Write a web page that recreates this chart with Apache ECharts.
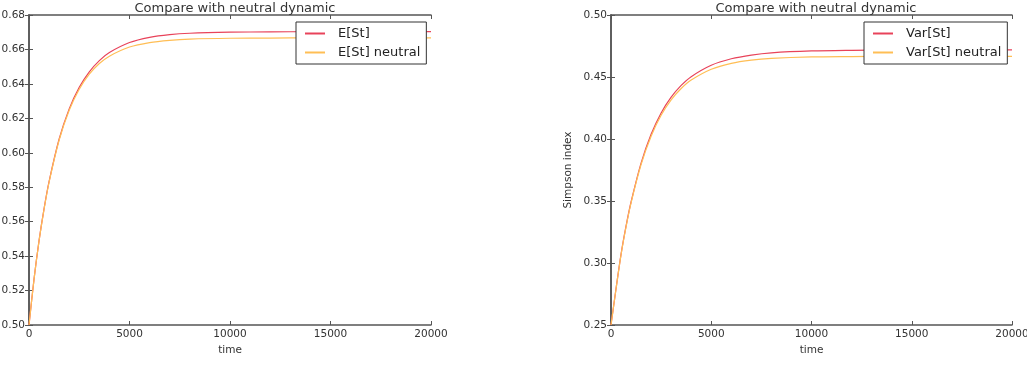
<!DOCTYPE html>
<html>
<head>
<meta charset="utf-8">
<script src="https://cdn.jsdelivr.net/npm/echarts@6/dist/echarts.min.js"></script>
<style>
  html, body { margin: 0; padding: 0; background: #fff; }
  #chart { width: 1027px; height: 375px; }
</style>
</head>
<body>
<div id="chart"></div>
<script>
// values
var times = [0, 250, 500, 750, 1000, 1500, 2000, 2500, 3000, 3500, 4000, 5000, 6000, 7000, 8000, 10000, 12000, 14000, 16000, 18000, 20000];
var eSt = [0.500, 0.5266, 0.5490, 0.5676, 0.5834, 0.6080, 0.6255, 0.6380, 0.6470, 0.6535, 0.6582, 0.6640, 0.6670, 0.6686, 0.6694, 0.6700, 0.6702, 0.6703, 0.6703, 0.6703, 0.6703];
var eStNeutral = [0.500, 0.5265, 0.5488, 0.5673, 0.5830, 0.6074, 0.6247, 0.6369, 0.6456, 0.6518, 0.6561, 0.6614, 0.6640, 0.6653, 0.6660, 0.6665, 0.6666, 0.6667, 0.6667, 0.6667, 0.6667];
var varSt = [0.250, 0.2792, 0.3070, 0.3297, 0.3492, 0.3806, 0.4038, 0.4210, 0.4337, 0.4432, 0.4503, 0.4595, 0.4647, 0.4677, 0.4695, 0.4710, 0.4715, 0.4717, 0.4718, 0.4718, 0.4718];
var varStNeutral = [0.250, 0.2790, 0.3066, 0.3291, 0.3485, 0.3794, 0.4022, 0.4191, 0.4315, 0.4407, 0.4475, 0.4562, 0.4610, 0.4636, 0.4650, 0.4662, 0.4665, 0.4667, 0.4667, 0.4667, 0.4667];
var xTicks = { min: 0, max: 20000, step: 5000 };
var leftY = { min: 0.50, max: 0.68, step: 0.02 };
var rightY = { min: 0.25, max: 0.50, step: 0.05 };

var RED = '#e8435a';
var YELLOW = '#ffbe55';
var FONT = 'DejaVu Sans';
var axisColor = '#555';
var TICK_SIZE = 10.5;

function pairs(ys) {
    return times.map(function (t, i) { return [t, ys[i]]; });
}

function xAxes(gi) {
    return [
        {
            type: 'value', gridIndex: gi, position: 'bottom',
            min: xTicks.min, max: xTicks.max, interval: xTicks.step,
            name: 'time', nameLocation: 'middle', nameGap: 20,
            nameTextStyle: { color: '#333', fontSize: TICK_SIZE, fontFamily: FONT },
            axisLine: { lineStyle: { color: axisColor, width: 1.5 } },
            axisTick: { inside: true, length: 4, lineStyle: { color: axisColor } },
            axisLabel: {
                color: '#333', fontSize: TICK_SIZE, fontFamily: FONT, margin: 4,
                formatter: function (v) { return String(v); }
            },
            splitLine: { show: false }
        },
        {
            type: 'value', gridIndex: gi, position: 'top',
            min: xTicks.min, max: xTicks.max, interval: xTicks.step,
            axisLine: { lineStyle: { color: axisColor, width: 1.5 } },
            axisTick: { inside: true, length: 4, lineStyle: { color: axisColor } },
            axisLabel: { show: false },
            splitLine: { show: false }
        }
    ];
}

function yAxes(gi, r, name) {
    return [
        {
            type: 'value', gridIndex: gi, position: 'left',
            min: r.min, max: r.max, interval: r.step,
            name: name, nameLocation: 'middle', nameGap: 37,
            nameTextStyle: { color: '#333', fontSize: TICK_SIZE, fontFamily: FONT },
            axisLine: { show: true, lineStyle: { color: axisColor, width: 1.5 } },
            axisTick: { show: true, inside: true, length: 4, lineStyle: { color: axisColor } },
            axisLabel: {
                color: '#333', fontSize: TICK_SIZE, fontFamily: FONT, margin: 4,
                formatter: function (v) { return v.toFixed(2); }
            },
            splitLine: { show: false }
        },
        {
            type: 'value', gridIndex: gi, position: 'right',
            min: r.min, max: r.max, interval: r.step,
            axisLine: { show: true, lineStyle: { color: axisColor, width: 1.5 } },
            axisTick: { show: true, inside: true, length: 4, lineStyle: { color: axisColor } },
            axisLabel: { show: false },
            splitLine: { show: false }
        }
    ];
}

function lineSeries(name, ys, color, xi, yi) {
    return {
        name: name, type: 'line', xAxisIndex: xi, yAxisIndex: yi,
        data: pairs(ys), smooth: 0.3, symbol: 'none',
        lineStyle: { color: color, width: 1.2 },
        itemStyle: { color: color }
    };
}

function legend(names, left) {
    return {
        data: names, orient: 'vertical', left: left, top: 22,
        backgroundColor: '#fff', borderColor: '#333', borderWidth: 1,
        padding: [5, 6, 5, 9], itemGap: 6, itemWidth: 20, itemHeight: 2,
        icon: 'rect',
        textStyle: { color: '#222', fontSize: 13, fontFamily: FONT, padding: [0, 0, 0, 8] }
    };
}

var myChart = echarts.init(document.getElementById('chart'), null, { renderer: 'canvas' });

var option = {
    animation: false,
    backgroundColor: '#fff',
    title: [
        { text: 'Compare with neutral dynamic', left: 230, top: -3, textAlign: 'center',
          textStyle: { color: '#333', fontSize: 13, fontWeight: 'normal', fontFamily: FONT } },
        { text: 'Compare with neutral dynamic', left: 811, top: -3, textAlign: 'center',
          textStyle: { color: '#333', fontSize: 13, fontWeight: 'normal', fontFamily: FONT } }
    ],
    legend: [
        legend(['E[St]', 'E[St] neutral'], 296),
        legend(['Var[St]', 'Var[St] neutral'], 864)
    ],
    grid: [
        { left: 29, top: 15, right: 596, bottom: 50, outerBoundsMode: 'none', containLabel: false },
        { left: 611, top: 15, right: 15, bottom: 50, outerBoundsMode: 'none', containLabel: false }
    ],
    xAxis: xAxes(0).concat(xAxes(1)),
    yAxis: yAxes(0, leftY, '').concat(yAxes(1, rightY, 'Simpson index')),
    series: [
        lineSeries('E[St]', eSt, RED, 0, 0),
        lineSeries('E[St] neutral', eStNeutral, YELLOW, 0, 0),
        lineSeries('Var[St]', varSt, RED, 2, 2),
        lineSeries('Var[St] neutral', varStNeutral, YELLOW, 2, 2)
    ]
};

myChart.setOption(option);
</script>
</body>
</html>
